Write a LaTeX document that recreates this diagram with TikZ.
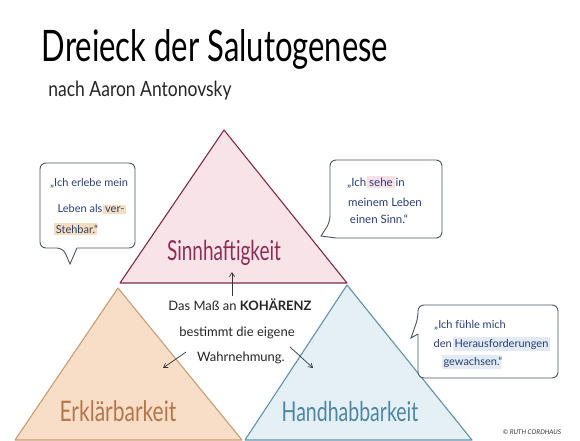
\documentclass[tikz,border=0pt]{standalone}
\usepackage{fontspec}
\setmainfont{Lato}
\usepackage{graphicx}
\usetikzlibrary{arrows.meta}
\definecolor{pinkfill}{HTML}{F8E3E8}
\definecolor{pinkline}{HTML}{7D2B46}
\definecolor{pinktext}{HTML}{8E2E55}
\definecolor{orfill}{HTML}{F8DEC6}
\definecolor{orline}{HTML}{C99C74}
\definecolor{ortext}{HTML}{B5764C}
\definecolor{blfill}{HTML}{E4EFF6}
\definecolor{blline}{HTML}{6193AD}
\definecolor{bltext}{HTML}{4D86A2}
\definecolor{bubline}{HTML}{4A5560}
\definecolor{quotetext}{HTML}{2B3F75}
\definecolor{hlor}{HTML}{F6DDBE}
\definecolor{hlpk}{HTML}{F7E0E6}
\definecolor{hlbl}{HTML}{E2EBF3}
\newcommand\hlword[2]{{\setlength{\fboxsep}{1.8pt}\makebox[0pt][l]{\hspace*{-1.8pt}\colorbox{#1}{\phantom{#2}}}#2}}
\tikzset{
  tri/.style={line width=1.1pt, line join=round},
  bubble/.style={draw=bubline, line width=0.9pt, rounded corners=6pt, fill=white},
  quote/.style={text=quotetext, inner sep=0pt, anchor=base},
  ctext/.style={text=black!85, inner sep=0pt, anchor=base, font=\fontsize{13}{15}\selectfont},
  label/.style={inner sep=0pt, anchor=base},
  pen/.style={-{Straight Barb[length=4pt,width=5pt]}, line width=0.7pt, black!80}
}
\begin{document}
\begin{tikzpicture}[x=1pt,y=-1pt]
\useasboundingbox (0,0) rectangle (580,441);
\fill[white] (0,0) rectangle (580,441);
\begin{scope}
\clip (0,0) rectangle (580,441);
% lower triangles
\filldraw[tri, fill=orfill, draw=orline] (118,288) -- (242,440) -- (15,440) -- cycle;
\filldraw[tri, fill=blfill, draw=blline] (347,285) -- (472,440) -- (245,440) -- cycle;
% top triangle
\filldraw[tri, fill=pinkfill, draw=pinkline] (224,130) -- (347,283) -- (120,283) -- cycle;
\end{scope}

% title
\node[label, font=\fontsize{31}{33}\selectfont] (title) at (215,62) {\scalebox{1}[1.4]{Dreieck der Salutogenese}};
\node[label, font=\fontsize{17.5}{19}\selectfont, text=black!85] (sub) at (140,97) {\scalebox{1}[1.2]{nach Aaron Antonovsky}};

% triangle labels
\node[label, text=pinktext, font=\fontsize{19}{21}\selectfont] (sinn) at (224,260) {\scalebox{1}[1.45]{Sinnhaftigkeit}};
\node[label, text=ortext, font=\fontsize{21}{23}\selectfont] (erkl) at (118,421) {\scalebox{1}[1.35]{Erklärbarkeit}};
\node[label, text=bltext, font=\fontsize{19.5}{21}\selectfont] (hand) at (350,421) {\scalebox{1}[1.4]{Handhabbarkeit}};

% centre text
\node[ctext] (c1) at (240,310) {Das Maß an \textbf{KOHÄRENZ}};
\node[ctext] (c2) at (237,336) {bestimmt die eigene};
\node[ctext] (c3) at (241,361) {Wahrnehmung.};

\coordinate (upS) at (232,296);
\coordinate (upE) at (232,272);
\coordinate (lS) at (186,352);
\coordinate (lE) at (163,368);
\coordinate (rS) at (290,347);
\coordinate (rE) at (313,368);
\draw[pen] (upS) -- (upE);
\draw[pen] (lS) -- (lE);
\draw[pen] (rS) -- (rE);

% speech bubble left
\draw[bubble] (77,248) -- (135,248) -- (135,163) -- (40,163) -- (40,248) -- (63,248) [sharp corners] -- (70,264) -- (77,248);
\node[quote, font=\fontsize{11}{13}\selectfont] (q1a) at (89,186) {„Ich erlebe mein};
\node[quote, font=\fontsize{11}{13}\selectfont] (q1b) at (91,212) {Leben als \hlword{hlor}{ver-}};
\node[quote, font=\fontsize{11}{13}\selectfont] (q1c) at (77,233) {\hlword{hlor}{Stehbar.}“};

% speech bubble top right
\draw[bubble] (336,238) -- (442,238) -- (442,160) -- (330,160) -- (330,222) [sharp corners] -- (321,236) -- (336,238);
\node[quote, font=\fontsize{11.5}{13}\selectfont] (q2a) at (376,186) {„Ich \hlword{hlpk}{sehe} in};
\node[quote, font=\fontsize{11.5}{13}\selectfont] (q2b) at (385,206) {meinem Leben};
\node[quote, font=\fontsize{11.5}{13}\selectfont] (q2c) at (379,223) {einen Sinn.“};

% speech bubble bottom right
\draw[bubble] (418,334) -- (418,378) -- (558,378) -- (558,305) -- (418,305) -- (418,318) [sharp corners] -- (411,338) -- (418,334);
\node[quote, font=\fontsize{11}{13}\selectfont] (q3a) at (470,328) {„Ich fühle mich};
\node[quote, font=\fontsize{11}{13}\selectfont] (q3b) at (491,347) {den \hlword{hlbl}{Herausforderungen}};
\node[quote, font=\fontsize{11}{13}\selectfont] (q3c) at (473,365) {\hlword{hlbl}{gewachsen.}“};

% copyright
\node[label, font=\fontsize{6.5}{8}\itshape, text=black!80] (copy) at (532,434) {© RUTH CORDHAUS};
\end{tikzpicture}
\end{document}
